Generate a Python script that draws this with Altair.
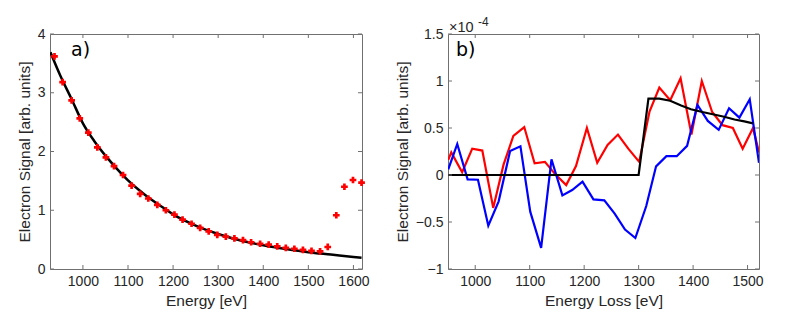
import altair as alt
import pandas as pd

# ---------- panel a data ----------
a_energy = [937, 955, 975, 993, 1012, 1032, 1051, 1069, 1089, 1108, 1127, 1145, 1165,
            1184, 1203, 1221, 1241, 1260, 1279, 1298, 1317, 1336, 1355, 1373, 1393,
            1412, 1431, 1450, 1469, 1488, 1507, 1526, 1543, 1562, 1580, 1599, 1618]
a_signal = [3.62, 3.18, 2.87, 2.565, 2.32, 2.07, 1.90, 1.75, 1.60, 1.42, 1.28, 1.20, 1.09,
            1.00, 0.925, 0.84, 0.77, 0.70, 0.64, 0.58, 0.55, 0.52, 0.49, 0.455, 0.43,
            0.415, 0.385, 0.36, 0.345, 0.325, 0.31, 0.30, 0.375, 0.915, 1.40, 1.515, 1.47]
a_fit_energy = [928, 950, 975, 1000, 1025, 1050, 1075, 1100, 1125, 1150, 1175, 1200,
                1250, 1300, 1350, 1400, 1450, 1500, 1550, 1600, 1618]
a_fit_signal = [3.69, 3.29, 2.89, 2.48, 2.18, 1.93, 1.71, 1.51, 1.34, 1.19, 1.06, 0.93,
                0.74, 0.595, 0.485, 0.405, 0.34, 0.285, 0.245, 0.205, 0.19]
a_xticks = [1000, 1100, 1200, 1300, 1400, 1500, 1600]
a_yticks = [0, 1, 2, 3, 4]

# ---------- panel b data (units of 1e-4) ----------
b_red_e = [950.5, 956, 976, 994.5, 1013, 1033, 1052, 1070, 1090, 1109, 1128, 1147, 1167,
           1185, 1205, 1224, 1243, 1262, 1281, 1301, 1320, 1338, 1358, 1377, 1397, 1416,
           1435, 1454, 1473, 1491, 1510, 1521]
b_red_v = [0.16, 0.24, 0.03, 0.28, 0.26, -0.35, 0.11, 0.415, 0.51, 0.125, 0.14, 0.007, -0.107,
           0.096, 0.50, 0.13, 0.32, 0.43, 0.28, 0.14, 0.675, 0.93, 0.795, 1.03, 0.43, 1.00,
           0.67, 0.53, 0.50, 0.28, 0.50, 0.24]
b_blue_e = [950.5, 967, 986, 1005, 1024, 1043, 1064, 1083, 1101, 1121, 1140, 1160, 1178,
            1197, 1217, 1237, 1256, 1275, 1294, 1314, 1332, 1351, 1370, 1389, 1408, 1427,
            1447, 1466, 1485, 1504, 1521]
b_blue_v = [0.06, 0.33, -0.046, -0.05, -0.54, -0.28, 0.255, 0.305, -0.39, -0.775, 0.167,
            -0.217, -0.16, -0.07, -0.26, -0.27, -0.41, -0.58, -0.67, -0.33, 0.092, 0.20,
            0.20, 0.31, 0.745, 0.575, 0.48, 0.71, 0.61, 0.805, 0.13]
b_black_e = [950, 1300, 1318, 1338, 1358, 1378, 1396, 1417, 1436, 1457, 1476, 1494, 1510]
b_black_v = [0, 0, 0.813, 0.813, 0.79, 0.74, 0.70, 0.67, 0.646, 0.62, 0.59, 0.57, 0.55]
b_xticks = [1000, 1100, 1200, 1300, 1400, 1500]
b_yticks = [-1, -0.5, 0, 0.5, 1, 1.5]

FONT = "Liberation Sans"
TXT = "#262626"
AX = "#707070"
W_A, W_B, H = 312, 311, 235


def axis(title, values, fmt):
    return alt.Axis(title=title, values=values, format=fmt, grid=False, ticks=False,
                    domain=False, labelFont=FONT, labelFontSize=14, labelColor=TXT,
                    labelPadding=5, titleFont=FONT, titleFontSize=15.5, titleColor=TXT,
                    titleFontWeight="normal", titlePadding=5, labelFlush=False)


def inner_ticks(xticks, yticks, xs, ys, w, xt, yt):
    tx = pd.DataFrame({"x": xticks})
    ty = pd.DataFrame({"y": yticks})
    bot = alt.Chart(tx).mark_rule(color=AX, strokeWidth=1).encode(
        x=alt.X("x:Q", scale=xs, title=xt), y=alt.value(H), y2=alt.value(H - 4))
    top = alt.Chart(tx).mark_rule(color=AX, strokeWidth=1).encode(
        x=alt.X("x:Q", scale=xs, title=xt), y=alt.value(0), y2=alt.value(4))
    left = alt.Chart(ty).mark_rule(color=AX, strokeWidth=1).encode(
        y=alt.Y("y:Q", scale=ys, title=yt), x=alt.value(0), x2=alt.value(4))
    right = alt.Chart(ty).mark_rule(color=AX, strokeWidth=1).encode(
        y=alt.Y("y:Q", scale=ys, title=yt), x=alt.value(w), x2=alt.value(w - 4))
    return [bot, top, left, right]


# ---------- panel a ----------
XT_A, YT = "Energy [eV]", "Electron Signal [arb. units]"
xa = alt.Scale(domain=[927, 1619], nice=False, zero=False)
ya = alt.Scale(domain=[0, 4], nice=False, zero=False)

fit_a = alt.Chart(pd.DataFrame({"e": a_fit_energy, "s": a_fit_signal})).mark_line(
    color="black", strokeWidth=2.5, interpolate="monotone", clip=True).encode(
    x=alt.X("e:Q", scale=xa, axis=axis(XT_A, a_xticks, "d")),
    y=alt.Y("s:Q", scale=ya, axis=axis(YT, a_yticks, "~g")),
)
pts_a = alt.Chart(pd.DataFrame({"e": a_energy, "s": a_signal})).mark_point(
    shape="cross", filled=True, color="#ff0000", size=45, opacity=1).encode(
    x=alt.X("e:Q", scale=xa, title=XT_A),
    y=alt.Y("s:Q", scale=ya, title=YT),
)
lab_a = alt.Chart(pd.DataFrame({"t": ["a)"]})).mark_text(
    align="left", baseline="middle", fontSize=19, font="DejaVu Sans", color="black").encode(
    text="t:N", x=alt.value(21), y=alt.value(16))

panel_a = alt.layer(fit_a, pts_a, *inner_ticks(a_xticks, a_yticks, xa, ya, W_A, XT_A, YT),
                    lab_a).properties(width=W_A, height=H)

# ---------- panel b ----------
XT_B = "Energy Loss [eV]"
xb = alt.Scale(domain=[950, 1521], nice=False, zero=False)
yb = alt.Scale(domain=[-1, 1.5], nice=False, zero=False)

red_b = alt.Chart(pd.DataFrame({"e": b_red_e, "v": b_red_v})).mark_line(
    color="#ff0000", strokeWidth=2.2, clip=True).encode(
    x=alt.X("e:Q", scale=xb, axis=axis(XT_B, b_xticks, "d")),
    y=alt.Y("v:Q", scale=yb, axis=axis(YT, b_yticks, "~g")),
)
blue_b = alt.Chart(pd.DataFrame({"e": b_blue_e, "v": b_blue_v})).mark_line(
    color="#0000ff", strokeWidth=2.2, clip=True).encode(
    x=alt.X("e:Q", scale=xb, title=XT_B),
    y=alt.Y("v:Q", scale=yb, title=YT),
)
black_b = alt.Chart(pd.DataFrame({"e": b_black_e, "v": b_black_v})).mark_line(
    color="black", strokeWidth=2.2, clip=True).encode(
    x=alt.X("e:Q", scale=xb, title=XT_B),
    y=alt.Y("v:Q", scale=yb, title=YT),
)
lab_b = alt.Chart(pd.DataFrame({"t": ["b)"]})).mark_text(
    align="left", baseline="middle", fontSize=19, font="DejaVu Sans", color="black").encode(
    text="t:N", x=alt.value(8), y=alt.value(16))
exp_b = alt.Chart(pd.DataFrame({"t": ["\u00d710"]})).mark_text(
    align="left", baseline="middle", fontSize=14.5, font=FONT, color=TXT).encode(
    text="t:N", x=alt.value(1), y=alt.value(-6))
sup_b = alt.Chart(pd.DataFrame({"t": ["-4"]})).mark_text(
    align="left", baseline="middle", fontSize=12, font=FONT, color=TXT).encode(
    text="t:N", x=alt.value(30), y=alt.value(-12))

panel_b = alt.layer(red_b, blue_b, black_b,
                    *inner_ticks(b_xticks, b_yticks, xb, yb, W_B, XT_B, YT),
                    lab_b, exp_b, sup_b).properties(width=W_B, height=H)

chart = alt.hconcat(panel_a, panel_b, spacing=24).configure_view(
    stroke=AX, strokeWidth=1).properties(
    padding={"left": 8, "top": 7, "right": 5, "bottom": 5}, background="white")

chart.save("out.html", embed_options={"renderer": "svg", "actions": False})
